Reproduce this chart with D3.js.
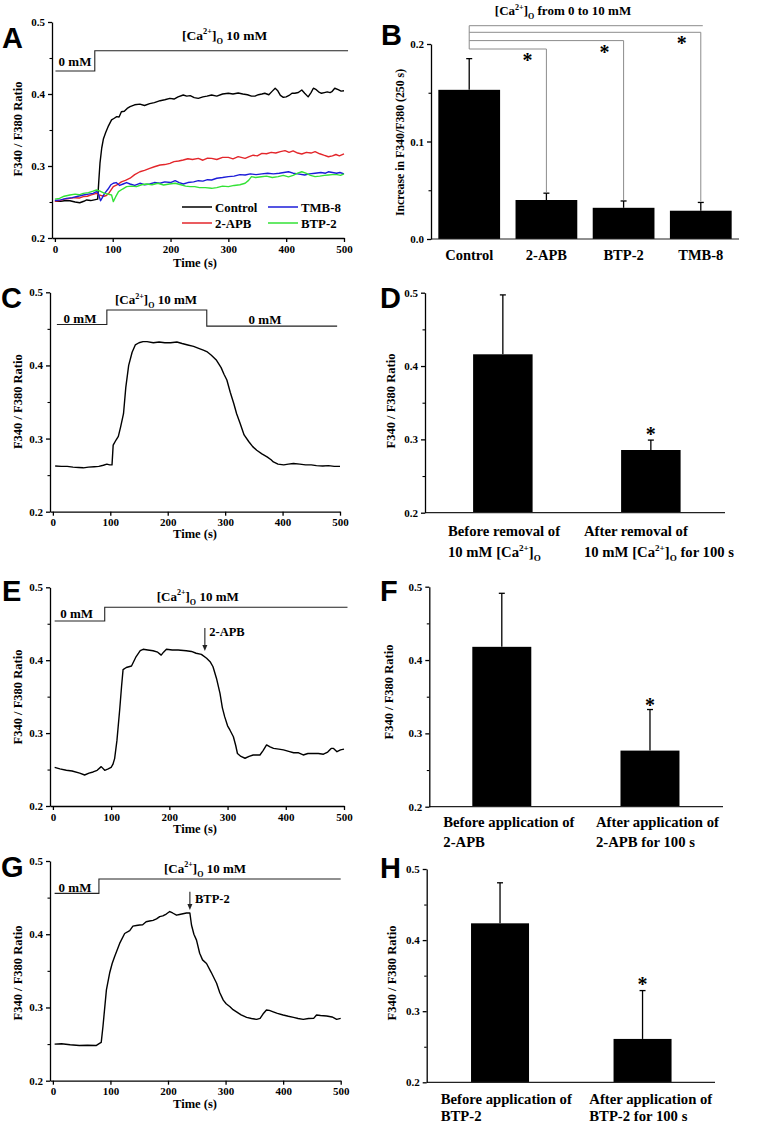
<!DOCTYPE html>
<html><head><meta charset="utf-8">
<script src="https://cdn.jsdelivr.net/npm/d3@7"></script>
<style>
body{margin:0;background:#fff;}
svg text{font-family:"Liberation Serif","Times New Roman",serif;font-weight:bold;fill:#000;white-space:pre;}
</style></head><body>
<svg id="c" width="767" height="1125"></svg>
<script>
// ---------- DATA ----------
const timeTicks = [0,100,200,300,400,500];
const ratioTicks = [0.2,0.3,0.4,0.5];
const ratioMinor = [0.25,0.35,0.45];
const incTicks = [0.0,0.1,0.2];
const incMinor = [0.05,0.15];

// Panel A traces [time (s), ratio]
const controlA = [[0,0.251],[10,0.251],[20,0.252],[26,0.2518],[35,0.250],[43,0.249],[50,0.251],[55,0.2528],[62,0.252],[72,0.2537],[74,0.254],[76,0.28],[78,0.304],[81,0.325],[84,0.338],[88,0.347],[92,0.3546],[98,0.364],[102,0.366],[107,0.3685],[111,0.368],[115,0.3754],[120,0.376],[125,0.380],[130,0.3824],[138,0.385],[147,0.386],[155,0.384],[164,0.3866],[172,0.388],[182,0.3907],[190,0.392],[199,0.394],[206,0.393],[213,0.396],[222,0.3986],[228,0.397],[234,0.3977],[241,0.395],[248,0.394],[256,0.396],[263,0.397],[271,0.3986],[280,0.397],[290,0.400],[300,0.401],[308,0.400],[317,0.4014],[325,0.400],[333,0.399],[340,0.397],[346,0.397],[352,0.399],[358,0.400],[363,0.401],[370,0.399],[376,0.404],[381,0.408],[385,0.405],[390,0.398],[395,0.3954],[400,0.396],[405,0.398],[410,0.401],[415,0.401],[421,0.402],[427,0.4056],[432,0.401],[438,0.396],[443,0.402],[447,0.408],[452,0.406],[456,0.403],[461,0.401],[466,0.402],[471,0.403],[476,0.402],[479,0.4032],[484,0.408],[490,0.406],[495,0.404],[500,0.4046]];
const apbA = [[0,0.251],[8,0.252],[16,0.254],[26,0.255],[35,0.256],[42,0.2555],[49,0.2574],[56,0.258],[63,0.260],[72,0.262],[76,0.260],[80,0.259],[85,0.258],[89,0.259],[94,0.263],[101,0.2713],[108,0.274],[115,0.278],[122,0.280],[130,0.283],[138,0.288],[147,0.292],[155,0.294],[164,0.2968],[172,0.299],[182,0.3014],[190,0.302],[199,0.3037],[206,0.306],[214,0.307],[222,0.3083],[230,0.310],[238,0.309],[248,0.3106],[256,0.308],[264,0.311],[271,0.3106],[280,0.309],[290,0.312],[300,0.312],[308,0.310],[317,0.313],[329,0.3106],[336,0.313],[343,0.315],[350,0.314],[358,0.3176],[366,0.317],[374,0.319],[382,0.318],[390,0.320],[398,0.3213],[405,0.319],[412,0.321],[420,0.318],[427,0.3167],[435,0.319],[443,0.318],[450,0.320],[458,0.317],[465,0.315],[473,0.3129],[480,0.314],[486,0.316],[492,0.314],[500,0.3167]];
const tmbA = [[0,0.252],[10,0.253],[20,0.255],[30,0.256],[40,0.258],[49,0.2597],[58,0.261],[66,0.262],[72,0.2643],[75,0.262],[79,0.2518],[82,0.256],[86,0.262],[92,0.268],[97,0.274],[101,0.276],[106,0.277],[112,0.273],[118,0.275],[124,0.277],[130,0.275],[138,0.273],[147,0.276],[155,0.274],[164,0.275],[172,0.277],[182,0.276],[190,0.278],[200,0.277],[208,0.2796],[215,0.277],[222,0.275],[230,0.277],[240,0.278],[248,0.2796],[256,0.279],[264,0.281],[271,0.2806],[280,0.283],[290,0.284],[300,0.2852],[310,0.286],[320,0.288],[329,0.2875],[338,0.289],[348,0.288],[358,0.289],[368,0.290],[378,0.289],[388,0.290],[396,0.291],[404,0.292],[412,0.290],[420,0.289],[432,0.2875],[440,0.289],[450,0.290],[460,0.291],[468,0.290],[473,0.292],[480,0.291],[487,0.290],[493,0.291],[500,0.289]];
const btpA = [[0,0.254],[8,0.255],[16,0.258],[26,0.2597],[35,0.261],[42,0.260],[49,0.262],[58,0.263],[66,0.265],[72,0.2667],[78,0.265],[86,0.262],[92,0.261],[98,0.2597],[101,0.2505],[105,0.257],[110,0.2643],[117,0.268],[124,0.2713],[132,0.272],[141,0.2713],[150,0.274],[158,0.275],[168,0.274],[178,0.276],[188,0.2736],[198,0.275],[208,0.276],[218,0.274],[226,0.272],[234,0.2713],[242,0.2713],[250,0.270],[260,0.270],[271,0.269],[280,0.270],[290,0.272],[300,0.2713],[310,0.273],[320,0.274],[329,0.276],[335,0.280],[340,0.2852],[347,0.284],[357,0.285],[366,0.286],[376,0.284],[386,0.2852],[395,0.287],[404,0.285],[412,0.287],[420,0.290],[427,0.292],[434,0.290],[442,0.287],[450,0.2852],[458,0.286],[466,0.287],[473,0.2875],[480,0.288],[488,0.288],[494,0.287],[500,0.289]];

// Panel B
const groupsB = ["Control","2-APB","BTP-2","TMB-8"];
const meanB = [0.153,0.040,0.032,0.029];
const errB = [0.032,0.007,0.007,0.0085];

// Panel C trace
const traceC = [[4,0.2625],[15,0.262],[25,0.262],[35,0.261],[45,0.2605],[53,0.260],[62,0.261],[72,0.2615],[80,0.262],[88,0.2635],[94,0.265],[99,0.264],[103,0.264],[105,0.291],[110,0.298],[114,0.303],[118,0.316],[123,0.334],[127,0.37],[132,0.40],[138,0.418],[143.5,0.428],[150,0.431],[157,0.4325],[164,0.4325],[175,0.431],[185,0.432],[195,0.431],[205,0.431],[216,0.432],[225,0.430],[235,0.428],[245,0.426],[255,0.423],[262,0.421],[268,0.419],[276,0.414],[285,0.407],[293,0.397],[298,0.388],[303,0.38],[309,0.363],[315,0.348],[320,0.334],[326,0.321],[333,0.305],[341,0.296],[348,0.289],[355,0.284],[364,0.279],[373,0.275],[380,0.271],[384,0.268],[392,0.265],[402,0.264],[410,0.265],[419,0.266],[430,0.265],[440,0.264],[450,0.264],[459,0.263],[470,0.2625],[480,0.263],[490,0.262],[500,0.262]];
// Panel D
const groupsD = ["before","after"];
const meanD = [0.416,0.2855];
const errD = [0.081,0.0135];

// Panel E trace
const traceE = [[3,0.253],[12,0.251],[23,0.249],[33,0.248],[46,0.245],[54.5,0.2425],[62,0.245],[69,0.2467],[76,0.249],[83,0.254],[89,0.249],[95,0.251],[100,0.253],[103,0.257],[106,0.265],[110,0.29],[114.7,0.332],[118,0.365],[120.5,0.387],[126,0.39],[135,0.392],[143,0.405],[150,0.413],[155,0.415],[163,0.414],[172,0.413],[180,0.411],[186,0.407],[190,0.411],[195,0.415],[205,0.414],[215,0.414],[229,0.413],[238,0.412],[246,0.4095],[255,0.408],[264,0.4026],[270,0.398],[275,0.391],[281,0.375],[287,0.3546],[291,0.335],[295,0.3226],[300,0.31],[304,0.3043],[310,0.295],[314,0.283],[317,0.272],[323,0.268],[330,0.2655],[337,0.268],[344,0.27],[350,0.27],[355.6,0.27],[361,0.276],[367,0.2837],[373,0.281],[379,0.279],[388,0.278],[396,0.277],[405,0.275],[413.5,0.273],[422,0.273],[430,0.27],[438,0.272],[447.5,0.272],[456,0.272],[464.7,0.271],[472,0.274],[478,0.279],[482,0.279],[488,0.2745],[494,0.277],[500,0.278]];
// Panel F
const meanF = [0.418,0.2765];
const errF = [0.073,0.056];

// Panel G trace
const traceG = [[3,0.25],[15,0.2505],[30,0.249],[46,0.248],[60,0.2485],[75,0.248],[81,0.251],[84,0.2524],[87,0.274],[93,0.324],[98.6,0.347],[103,0.36],[107,0.369],[116,0.3875],[124.7,0.401],[133.5,0.405],[139,0.411],[145,0.412],[150.8,0.4126],[156,0.413],[162,0.417],[168,0.418],[174,0.419],[180,0.421],[185.6,0.424],[191,0.425],[197,0.4276],[203,0.431],[208,0.429],[214.8,0.426],[220,0.427],[226,0.428],[232,0.429],[238,0.429],[240.8,0.4126],[245,0.40],[249.5,0.392],[255,0.374],[260,0.365],[266.9,0.36],[275,0.348],[284.4,0.333],[290,0.32],[296,0.31],[301,0.305],[307.7,0.301],[313,0.297],[319,0.294],[327,0.29],[336.6,0.2865],[345,0.285],[354,0.2837],[360,0.2851],[365,0.291],[371,0.2965],[376,0.296],[382.8,0.294],[390,0.292],[400,0.2897],[409,0.288],[418,0.2865],[426,0.285],[435,0.2837],[444,0.285],[453,0.2851],[458,0.2897],[465,0.289],[475.6,0.2883],[485,0.287],[493,0.2837],[500,0.2851]];
// Panel H
const meanH = [0.4236,0.261];
const errH = [0.057,0.068];

// ---------- DRAWING ----------
const svg = d3.select("#c");
const FS_TICK = 11;

function rich(g, x, y, size, parts, anchor){
  const t = g.append("text").attr("x",x).attr("y",y).attr("font-size",size).attr("text-anchor",anchor||"start");
  let cur = 0;
  parts.forEach(p=>{
    const off = p.sup ? -size*0.42 : (p.sub ? size*0.3 : 0);
    const fs = (p.sup||p.sub) ? size*0.62 : size;
    t.append("tspan").attr("dy", off-cur).attr("font-size", fs).text(p.t);
    cur = off;
  });
  return t;
}
const CA = [{t:"[Ca"},{t:"2+",sup:1},{t:"]"},{t:"O",sub:1}];

function styleAxis(a){
  a.attr("font-family","Liberation Serif, Times New Roman, serif").attr("font-size",FS_TICK).attr("font-weight","bold");
  a.selectAll("path, line").attr("stroke","#000").attr("stroke-width",1.3);
}
function yAxis(g, y, x0, ticks, minor, fmt){
  const a = g.append("g").attr("transform",`translate(${x0},0)`)
    .call(d3.axisLeft(y).tickValues(ticks).tickSize(4).tickSizeOuter(0).tickPadding(3).tickFormat(fmt));
  styleAxis(a);
  const m = g.append("g").attr("transform",`translate(${x0},0)`)
    .call(d3.axisLeft(y).tickValues(minor).tickSize(2.5).tickSizeOuter(0).tickFormat(""));
  m.select(".domain").remove();
  m.selectAll("line").attr("stroke","#000").attr("stroke-width",1.1);
}
function letter(t,x,y){
  svg.append("text").attr("x",x).attr("y",y).text(t)
    .style("font-family","'Liberation Sans', Arial, sans-serif").attr("font-size",29).attr("font-weight","bold");
}
function yTitle(g, t, x, y, size){
  g.append("text").attr("transform",`translate(${x},${y}) rotate(-90)`).attr("text-anchor","middle").attr("font-size",size||12).text(t);
}

function tracePanel(p){
  const g = svg.append("g");
  const x = d3.scaleLinear().domain([-5,500]).range(p.xr);
  const y = d3.scaleLinear().domain([0.2,0.5]).range(p.yr);
  yAxis(g, y, p.xr[0], ratioTicks, ratioMinor, d3.format(".1f"));
  const xa = g.append("g").attr("transform",`translate(0,${p.yr[0]})`)
    .call(d3.axisBottom(x).tickValues(timeTicks).tickSize(4).tickSizeOuter(0).tickPadding(3));
  styleAxis(xa);
  g.append("text").attr("x",195).attr("y",p.xt).attr("text-anchor","middle").attr("font-size",12.5).text("Time (s)");
  yTitle(g, "F340 / F380 Ratio", 21.5, p.yt, 12.5);
  const line = d3.line().x(d=>x(d[0])).y(d=>y(d[1]));
  p.traces.forEach(tr=>{
    g.append("path").datum(tr.data).attr("d",line).attr("fill","none")
      .attr("stroke",tr.color).attr("stroke-width",1.4).attr("stroke-linejoin","round");
  });
  // stimulus bar
  const st = p.stim.times.map((t,i)=>[t, p.stim.levels[Math.min(i,p.stim.levels.length-1)]]);
  g.append("path").datum(st).attr("d", d3.line().x(d=>x(d[0])).y(d=>y(d[1])).curve(d3.curveStepAfter))
    .attr("fill","none").attr("stroke","#222").attr("stroke-width",1.1);
  p.stimText.forEach(s=>{
    if (s.ca) rich(g, s.x, s.y, s.size, CA.concat([{t:" 10 mM"}]), "start");
    else g.append("text").attr("x",s.x).attr("y",s.y).attr("text-anchor","middle").attr("font-size",s.size).text(s.t);
  });
  if (p.arrow){
    const ax = x(p.arrow.t);
    g.append("line").attr("x1",ax).attr("x2",ax).attr("y1",p.arrow.y0).attr("y2",p.arrow.y1-4).attr("stroke","#222").attr("stroke-width",1.1);
    g.append("path").attr("d",`M${ax-2.5},${p.arrow.y1-6} L${ax+2.5},${p.arrow.y1-6} L${ax},${p.arrow.y1} Z`).attr("fill","#222");
    g.append("text").attr("x",p.arrow.lx).attr("y",p.arrow.ly).attr("font-size",12.5).text(p.arrow.label);
  }
  return {g,x,y};
}

function barPanel(p){
  const g = svg.append("g");
  const x = d3.scaleBand().domain(p.cats).range(p.xr).paddingInner(p.pi).paddingOuter(p.po).align(p.al);
  const y = d3.scaleLinear().domain(p.dom).range(p.yr);
  g.selectAll("rect.bar").data(p.cats).join("rect")
    .attr("x",d=>x(d)).attr("width",x.bandwidth())
    .attr("y",(d,i)=>y(p.mean[i])).attr("height",(d,i)=>y(p.dom[0])-y(p.mean[i])).attr("fill","#000");
  p.cats.forEach((c,i)=>{
    const cx = x(c)+x.bandwidth()/2;
    g.append("line").attr("x1",cx).attr("x2",cx).attr("y1",y(p.mean[i])).attr("y2",y(p.mean[i]+p.err[i])).attr("stroke","#000").attr("stroke-width",1.3);
    g.append("line").attr("x1",cx-3).attr("x2",cx+3).attr("y1",y(p.mean[i]+p.err[i])).attr("y2",y(p.mean[i]+p.err[i])).attr("stroke","#000").attr("stroke-width",1.3);
  });
  g.append("line").attr("x1",p.xr[0]).attr("x2",p.xr[1]).attr("y1",p.yr[0]).attr("y2",p.yr[0]).attr("stroke","#222").attr("stroke-width",1.2);
  yAxis(g, y, p.xr[0], p.ticks, p.minor, d3.format(".1f"));
  return {g,x,y};
}
function barLabels(P, lefts, base, gap, lines){
  lines.forEach((ls,i)=>{
    ls.forEach((parts,j)=>{
      rich(P.g, lefts[i], base+gap*j, 14.7, parts, "start");
    });
  });
}

// ---- Panel A ----
const A = tracePanel({
  xr:[52,344], yr:[238,22], xt:267, yt:129,
  traces:[{data:controlA,color:"#000"},{data:apbA,color:"#e3262b"},{data:tmbA,color:"#1c1cd8"},{data:btpA,color:"#33e236"}],
  stim:{times:[1,69,507], levels:[0.432,0.46]},
  stimText:[{t:"0 mM",x:75,y:65.5,size:13},{ca:1,x:182,y:39.5,size:13.5}]
});
const legend = [
  {label:"Control",color:"#000",col:0,row:0},
  {label:"TMB-8",color:"#1c1cd8",col:1,row:0},
  {label:"2-APB",color:"#e3262b",col:0,row:1},
  {label:"BTP-2",color:"#33e236",col:1,row:1}];
legend.forEach(l=>{
  const lx = l.col? 268 : 182, ly = l.row? 223 : 207;
  A.g.append("line").attr("x1",lx).attr("x2",lx+30).attr("y1",ly).attr("y2",ly).attr("stroke",l.color).attr("stroke-width",1.5);
  A.g.append("text").attr("x",lx+33).attr("y",ly+4.5).attr("font-size",12.8).text(l.label);
});
letter("A",2,48);

// ---- Panel B ----
const B = barPanel({cats:groupsB, mean:meanB, err:errB, xr:[431,739], yr:[239,44], dom:[0,0.2],
  pi:0.2, po:0.095, al:0.5, ticks:incTicks, minor:incMinor});
groupsB.forEach(c=>{
  B.g.append("text").attr("x",B.x(c)+B.x.bandwidth()/2).attr("y",259.5).attr("text-anchor","middle").attr("font-size",14.5).text(c);
});
yTitle(B.g, "Increase in F340/F380 (250 s)", 404, 142.5, 11.8);
{
  const c0 = B.x("Control")+B.x.bandwidth()/2;
  const top = B.y(0.2);
  const gray = "#8c8c8c";
  const levels = [top+5, top-3.4, top-11.7];
  const topLine = top-18.3;
  B.g.append("line").attr("x1",c0).attr("x2",c0).attr("y1",topLine).attr("y2",levels[0]).attr("stroke",gray).attr("stroke-width",1);
  B.g.append("line").attr("x1",c0).attr("x2",B.x("TMB-8")+B.x.bandwidth()/2+2).attr("y1",topLine).attr("y2",topLine).attr("stroke",gray).attr("stroke-width",1);
  ["2-APB","BTP-2","TMB-8"].forEach((c,k)=>{
    const i = groupsB.indexOf(c);
    const cx = B.x(c)+B.x.bandwidth()/2;
    const ly = levels[k];
    B.g.append("path").attr("d",`M${c0},${ly} H${cx} V${B.y(meanB[i]+errB[i])-1}`).attr("fill","none").attr("stroke",gray).attr("stroke-width",1);
    B.g.append("text").attr("x",cx-19).attr("y",ly+18).attr("text-anchor","middle").attr("font-size",20).text("*");
  });
  rich(B.g, 563, 15, 13, CA.concat([{t:" from 0 to 10 mM"}]), "middle");
}
letter("B",381,45);

// ---- Panel C ----
tracePanel({
  xr:[50,340], yr:[511.7,292.3], xt:538, yt:401.7,
  traces:[{data:traceC,color:"#000"}],
  stim:{times:[7,94,268,495], levels:[0.456,0.4758,0.4538,0.4538]},
  stimText:[{t:"0 mM",x:80,y:322.5,size:13},{ca:1,x:115,y:304,size:13},{t:"0 mM",x:265,y:324,size:13}]
});
letter("C",1,308);

// ---- Panel D ----
const D = barPanel({cats:groupsD, mean:meanD, err:errD, xr:[425,725], yr:[512.7,292.7], dom:[0.2,0.5],
  pi:0.598, po:0.3125, al:0.52, ticks:ratioTicks, minor:ratioMinor});
yTitle(D.g, "F340 / F380 Ratio", 395, 401, 12.5);
barLabels(D, [448,584], 536, 21, [
  [[{t:"Before removal of"}], [{t:"10 mM "}].concat(CA)],
  [[{t:"After removal of"}], [{t:"10 mM "}].concat(CA).concat([{t:" for 100 s"}])]
]);
D.g.append("text").attr("x",D.x("after")+D.x.bandwidth()/2).attr("y",D.y(meanD[1]+errD[1])+1).attr("text-anchor","middle").attr("font-size",20).text("*");
letter("D",380,308);

// ---- Panel E ----
tracePanel({
  xr:[50,344], yr:[806,587.3], xt:833, yt:697,
  traces:[{data:traceE,color:"#000"}],
  stim:{times:[3,89,506], levels:[0.4538,0.4726]},
  stimText:[{t:"0 mM",x:76.7,y:618,size:13},{ca:1,x:156.7,y:600.7,size:13}],
  arrow:{t:261,y0:628,y1:651,label:"2-APB",lx:209.3,ly:636}
});
letter("E",2,601);

// ---- Panel F ----
const F = barPanel({cats:groupsD, mean:meanF, err:errF, xr:[429.3,723], yr:[806.7,586.7], dom:[0.2,0.5],
  pi:0.602, po:0.292, al:0.497, ticks:ratioTicks, minor:ratioMinor});
yTitle(F.g, "F340 / F380 Ratio", 393, 692, 12.5);
barLabels(F, [443.3,596], 827, 20, [
  [[{t:"Before application of"}],[{t:"2-APB"}]],
  [[{t:"After application of"}],[{t:"2-APB for 100 s"}]]
]);
F.g.append("text").attr("x",F.x("after")+F.x.bandwidth()/2).attr("y",F.y(meanF[1]+errF[1])+2).attr("text-anchor","middle").attr("font-size",20).text("*");
letter("F",380,601);

// ---- Panel G ----
tracePanel({
  xr:[50,340.7], yr:[1080.7,861], xt:1108, yt:973,
  traces:[{data:traceG,color:"#000"}],
  stim:{times:[3,80,500], levels:[0.4558,0.4754]},
  stimText:[{t:"0 mM",x:75,y:892,size:13},{ca:1,x:164,y:872.7,size:13}],
  arrow:{t:238,y0:891.7,y1:910,label:"BTP-2",lx:195,ly:903}
});
letter("G",1,877);

// ---- Panel H ----
const H = barPanel({cats:groupsD, mean:meanH, err:errH, xr:[426.7,715], yr:[1082.3,869], dom:[0.2,0.5],
  pi:0.593, po:0.308, al:0.505, ticks:ratioTicks, minor:ratioMinor});
yTitle(H.g, "F340 / F380 Ratio", 396, 973, 12.5);
barLabels(H, [440.7,589.3], 1104, 17, [
  [[{t:"Before application of"}],[{t:"BTP-2"}]],
  [[{t:"After application of"}],[{t:"BTP-2 for 100 s"}]]
]);
H.g.append("text").attr("x",H.x("after")+H.x.bandwidth()/2).attr("y",H.y(meanH[1]+errH[1])).attr("text-anchor","middle").attr("font-size",20).text("*");
letter("H",380,878);
</script>
</body></html>
